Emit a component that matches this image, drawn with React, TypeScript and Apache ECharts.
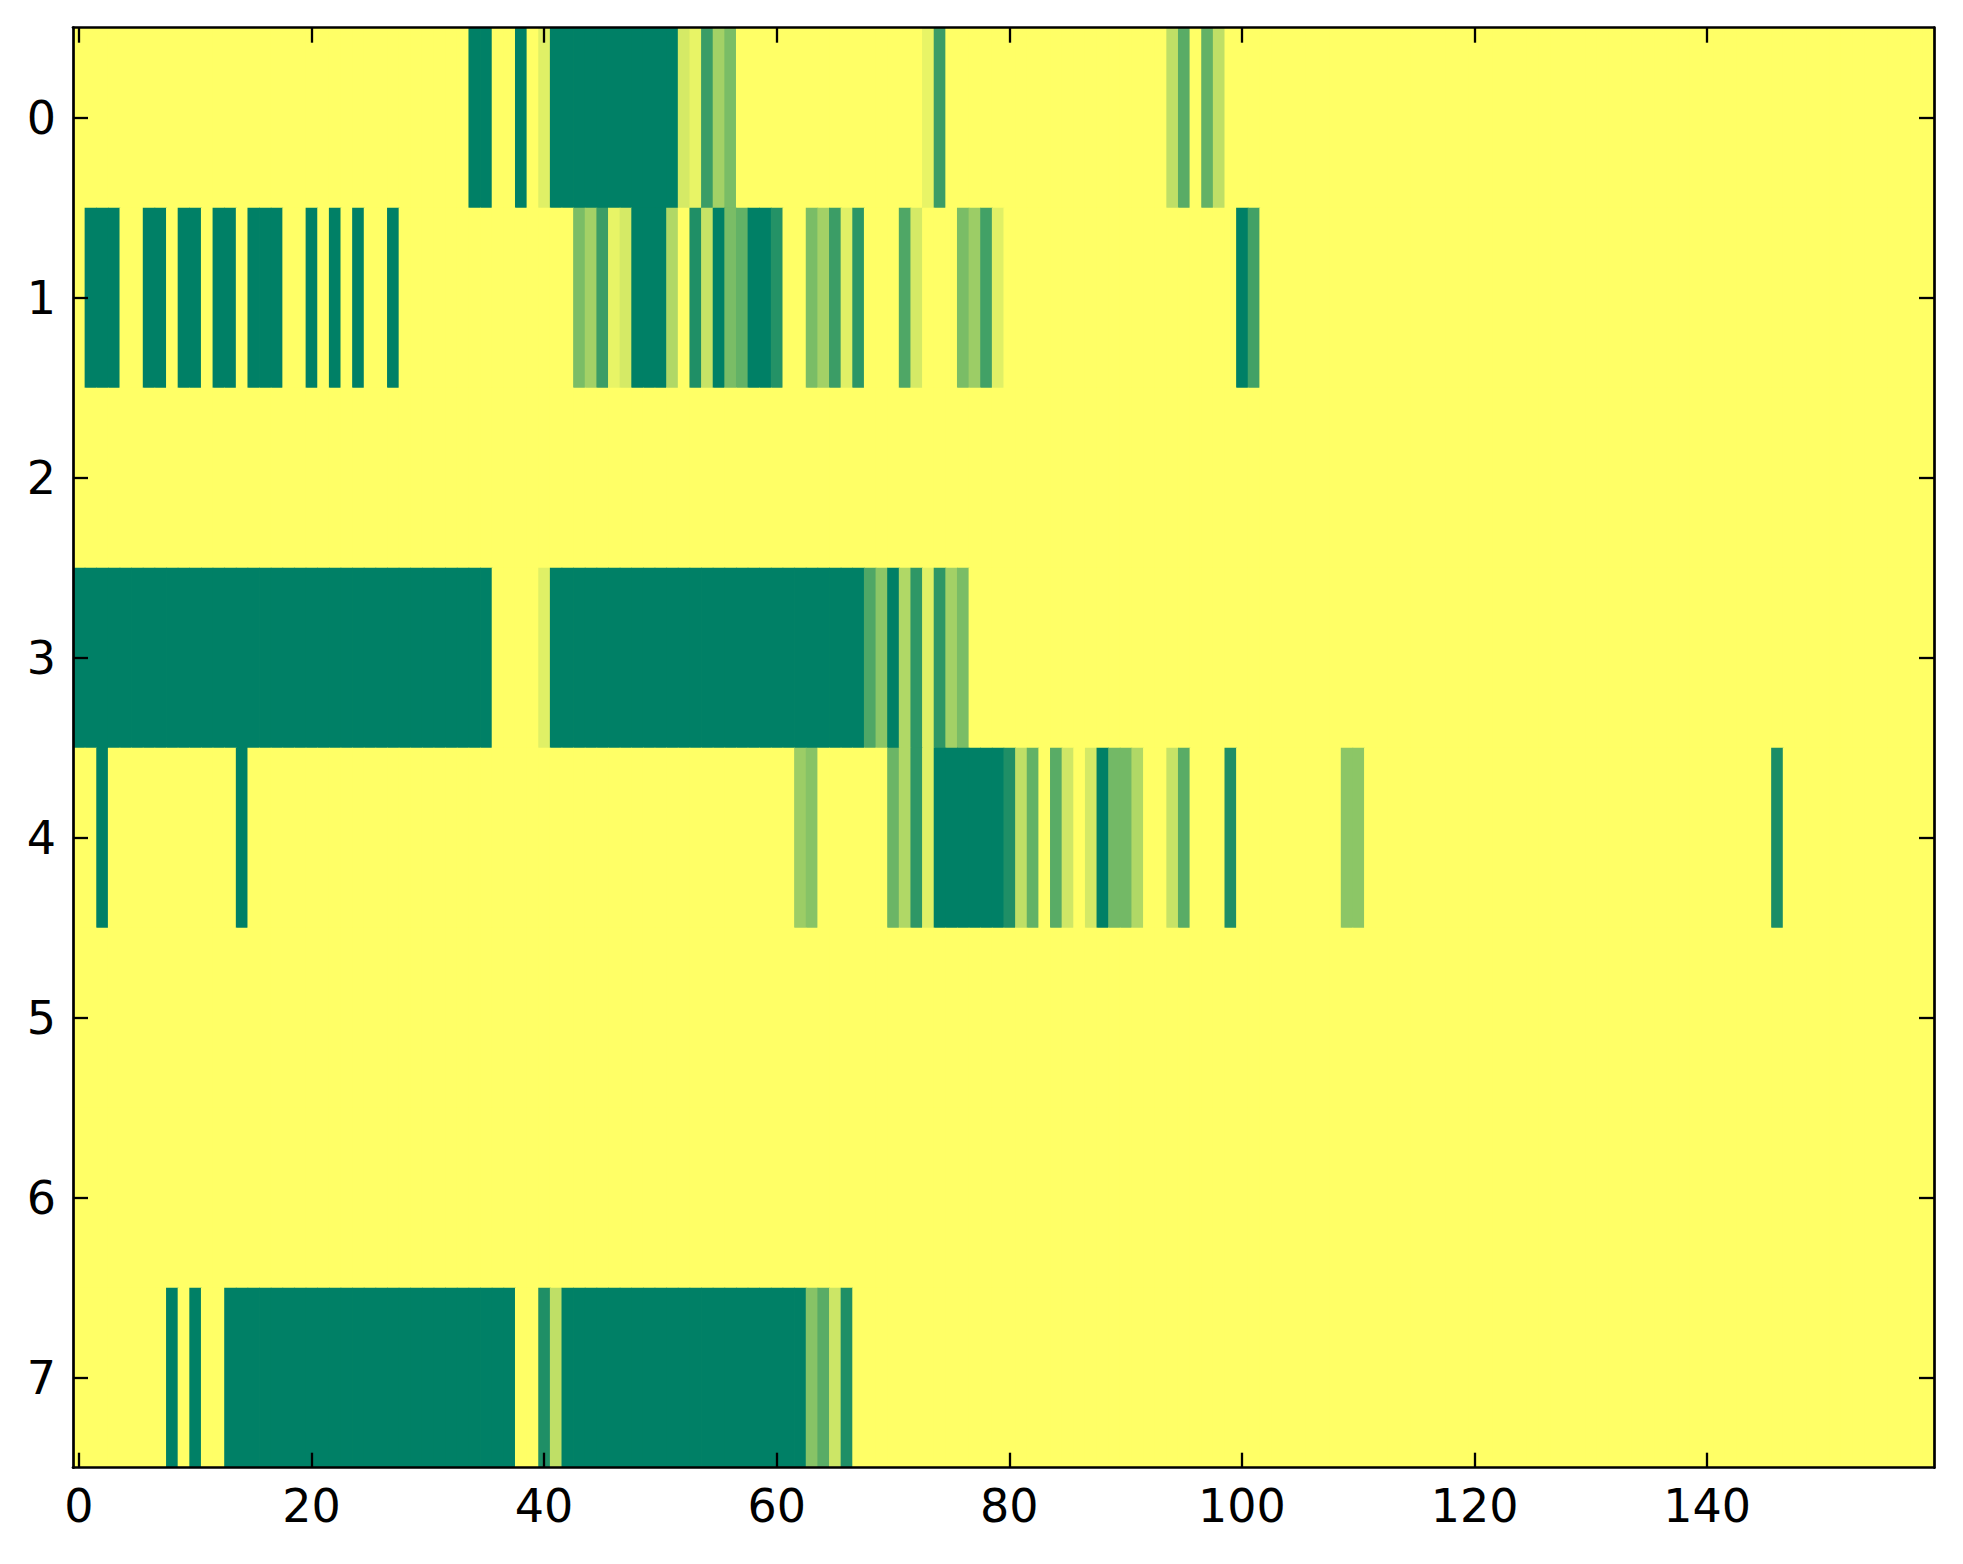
import React, { useEffect, useRef } from "react";
import * as echarts from "echarts";

// Row labels (y axis, top to bottom) and column count (x axis)
const ROW_LABELS = ["0", "1", "2", "3", "4", "5", "6", "7"];
const COLUMN_COUNT = 160;
const X_TICKS = [0, 20, 40, 60, 80, 100, 120, 140];

// Each row: runs of [firstColumn, lastColumn, value]; cells not listed are 0.
type Run = [number, number, number];

const row0: Run[] = [
  [34, 35, 1], [38, 38, 1], [40, 40, 0.12], [41, 51, 1], [52, 52, 0.165],
  [53, 53, 0.09], [54, 54, 0.77], [55, 55, 0.36], [56, 56, 0.52],
  [73, 73, 0.09], [74, 74, 0.77], [94, 94, 0.25], [95, 95, 0.65],
  [97, 97, 0.61], [98, 98, 0.25],
];
const row1: Run[] = [
  [1, 3, 1], [6, 7, 1], [9, 10, 1], [12, 13, 1], [15, 17, 1], [20, 20, 1],
  [22, 22, 1], [24, 24, 1], [27, 27, 1],
  [43, 43, 0.52], [44, 44, 0.36], [45, 45, 0.77], [46, 46, 0.09],
  [47, 47, 0.165], [48, 50, 1], [51, 51, 0.31], [53, 53, 0.88],
  [54, 54, 0.22], [55, 55, 1], [56, 56, 0.52], [57, 57, 0.61], [58, 59, 1],
  [60, 60, 0.86], [63, 63, 0.52], [64, 64, 0.36], [65, 65, 0.77],
  [66, 66, 0.12], [67, 67, 0.83], [71, 71, 0.69], [72, 72, 0.165],
  [76, 76, 0.52], [77, 77, 0.39], [78, 78, 0.74], [79, 79, 0.12],
  [100, 100, 1], [101, 101, 0.74],
];
const row2: Run[] = [];
const row3: Run[] = [
  [0, 35, 1], [40, 40, 0.12], [41, 67, 1], [68, 68, 0.69], [69, 69, 0.45],
  [70, 70, 1], [71, 71, 0.31], [72, 72, 0.82], [73, 73, 0.12],
  [74, 74, 0.82], [75, 75, 0.36], [76, 76, 0.52],
];
const row4: Run[] = [
  [2, 2, 1], [14, 14, 1], [62, 62, 0.39], [63, 63, 0.47], [70, 70, 0.58],
  [71, 71, 0.31], [72, 72, 0.82], [73, 73, 0.12], [74, 79, 1],
  [80, 80, 0.88], [81, 81, 0.25], [82, 82, 0.61], [84, 84, 0.65],
  [85, 85, 0.19], [87, 87, 0.17], [88, 88, 1], [89, 90, 0.55],
  [91, 91, 0.31], [94, 94, 0.22], [95, 95, 0.65], [99, 99, 0.88],
  [109, 110, 0.45], [146, 146, 0.9],
];
const row5: Run[] = [];
const row6: Run[] = [];
const row7: Run[] = [
  [8, 8, 1], [10, 10, 1], [13, 37, 1], [40, 40, 0.88], [41, 41, 0.25],
  [42, 62, 1], [63, 63, 0.47], [64, 64, 0.65], [65, 65, 0.2], [66, 66, 0.88],
];

const ROWS: Run[][] = [row0, row1, row2, row3, row4, row5, row6, row7];

function buildCells(): [number, number, number][] {
  const cells: [number, number, number][] = [];
  ROWS.forEach((runs, r) => {
    for (let c = 0; c < COLUMN_COUNT; c++) {
      let v = 0;
      for (const [a, b, val] of runs) {
        if (c >= a && c <= b) v = val;
      }
      cells.push([c, r, v]);
    }
  });
  return cells;
}

export default function App() {
  const ref = useRef<HTMLDivElement>(null);

  useEffect(() => {
    document.body.style.margin = "0";
    if (!ref.current) return;
    const chart = echarts.init(ref.current, undefined, { renderer: "svg" });
    const cols = Array.from({ length: COLUMN_COUNT }, (_, i) => String(i));
    const isTick = (i: number) => X_TICKS.indexOf(i) >= 0;
    const font = "DejaVu Sans";
    const lineStyle = { color: "#000", width: 2.7 };
    const tickStyle = { color: "#000", width: 2.3 };

    const renderCell = (params: any, api: any) => {
      const center = api.coord([api.value(0), api.value(1)]);
      const size = api.size([1, 1]);
      const w = size[0];
      const h = size[1];
      const gridRect = params.coordSys;
      const x0 = center[0] - w / 2;
      const y0 = center[1] - h / 2;
      // slight overlap to hide anti-aliasing seams, clipped to the grid
      const x1 = Math.min(center[0] + w / 2 + 0.8, gridRect.x + gridRect.width);
      const y1 = Math.min(center[1] + h / 2 + 0.8, gridRect.y + gridRect.height);
      return {
        type: "rect",
        shape: { x: x0, y: y0, width: x1 - x0, height: y1 - y0 },
        style: { fill: api.visual("color") },
      };
    };

    chart.setOption({
      animation: false,
      backgroundColor: "#fff",
      grid: {
        left: 73,
        top: 27.7,
        width: 1861,
        height: 1440,
        show: true,
        backgroundColor: "#ffff66",
        borderWidth: 0,
      },
      visualMap: {
        type: "continuous",
        show: false,
        min: 0,
        max: 1,
        dimension: 2,
        seriesIndex: 0,
        inRange: { color: ["#ffff66", "#008066"] },
      },
      xAxis: [
        {
          type: "category",
          data: cols,
          position: "bottom",
          z: 10,
          axisLine: { show: true, lineStyle },
          axisTick: {
            show: true,
            inside: true,
            length: 15,
            alignWithLabel: true,
            interval: (i: number) => isTick(i),
            lineStyle: tickStyle,
          },
          axisLabel: {
            show: true,
            interval: (i: number) => isTick(i),
            margin: 15,
            fontFamily: font,
            fontSize: 46,
            color: "#000",
          },
          splitLine: { show: false },
        },
        {
          type: "category",
          data: cols,
          position: "top",
          z: 10,
          axisLine: { show: true, lineStyle },
          axisTick: {
            show: true,
            inside: true,
            length: 15,
            alignWithLabel: true,
            interval: (i: number) => isTick(i),
            lineStyle: tickStyle,
          },
          axisLabel: { show: false },
          splitLine: { show: false },
        },
      ],
      yAxis: [
        {
          type: "category",
          data: ROW_LABELS,
          inverse: true,
          position: "left",
          z: 10,
          axisLine: { show: true, lineStyle },
          axisTick: {
            show: true,
            inside: true,
            length: 15,
            alignWithLabel: true,
            lineStyle: tickStyle,
          },
          axisLabel: {
            show: true,
            margin: 17,
            fontFamily: font,
            fontSize: 46,
            color: "#000",
          },
          splitLine: { show: false },
        },
        {
          type: "category",
          data: ROW_LABELS,
          inverse: true,
          position: "right",
          z: 10,
          axisLine: { show: true, lineStyle },
          axisTick: {
            show: true,
            inside: true,
            length: 15,
            alignWithLabel: true,
            lineStyle: tickStyle,
          },
          axisLabel: { show: false },
          splitLine: { show: false },
        },
      ],
      series: [
        {
          type: "custom",
          xAxisIndex: 0,
          yAxisIndex: 0,
          data: buildCells(),
          encode: { x: 0, y: 1 },
          renderItem: renderCell,
          silent: true,
        },
      ],
    });

    return () => chart.dispose();
  }, []);

  return <div ref={ref} style={{ width: 1963, height: 1564 }} />;
}
